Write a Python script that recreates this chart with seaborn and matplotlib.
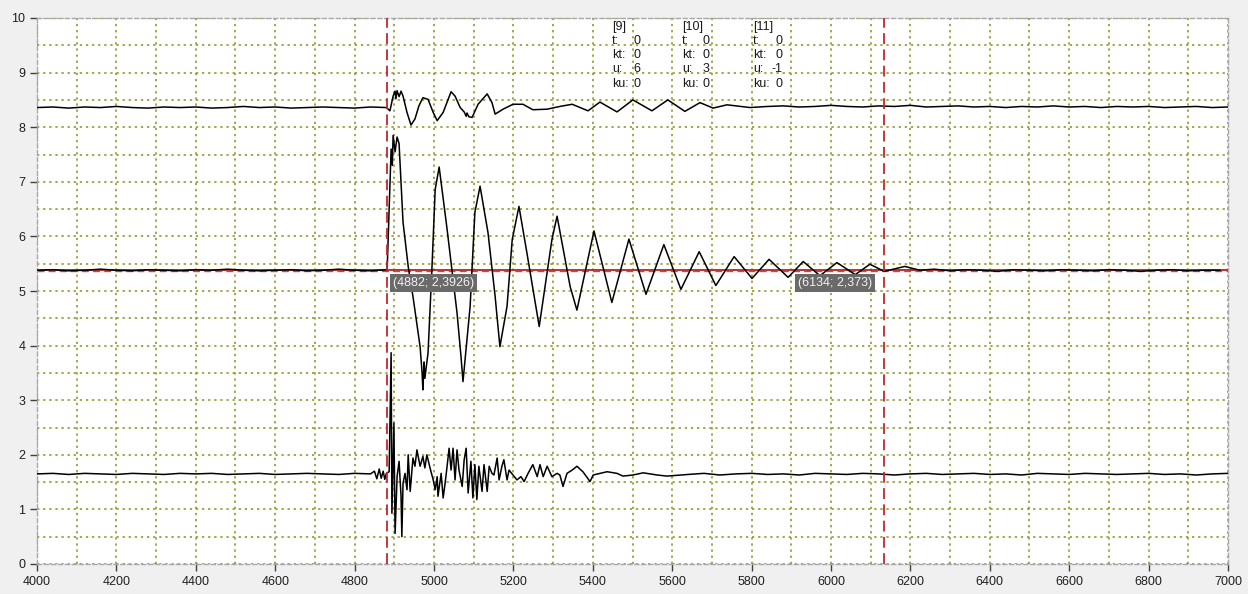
import numpy as np
import pandas as pd
import matplotlib
matplotlib.use("Agg")
import matplotlib.pyplot as plt
import seaborn as sns
from matplotlib.ticker import MultipleLocator

# ---------------- data ----------------
# top trace
top_pre_x = list(range(4000, 4881, 40))
top_pre_y = [8.36, 8.37, 8.35, 8.37, 8.36, 8.38, 8.36, 8.35, 8.37, 8.36, 8.37, 8.35,
             8.36, 8.38, 8.36, 8.37, 8.35, 8.36, 8.37, 8.36, 8.35, 8.37, 8.36]
top_osc_x = [4889, 4897, 4902, 4904, 4907, 4912, 4917, 4922, 4932, 4942, 4952, 4962,
             4972, 4985, 4998, 5008, 5023, 5043, 5053, 5066, 5076, 5081, 5083, 5088,
             5096, 5111, 5134, 5146, 5154, 5174, 5199, 5224, 5249, 5285, 5317, 5348,
             5388, 5418, 5461, 5501, 5549, 5589, 5632, 5670, 5703, 5738, 5796]
top_osc_y = [8.30, 8.57, 8.66, 8.52, 8.67, 8.56, 8.66, 8.57, 8.27, 8.04, 8.15, 8.39,
             8.54, 8.51, 8.27, 8.12, 8.27, 8.65, 8.57, 8.36, 8.28, 8.20, 8.26, 8.19,
             8.18, 8.42, 8.61, 8.45, 8.24, 8.33, 8.42, 8.42, 8.32, 8.33, 8.38, 8.42,
             8.30, 8.46, 8.28, 8.50, 8.30, 8.50, 8.29, 8.45, 8.35, 8.41, 8.36]
top_post_x = list(range(5840, 7001, 40))
top_post_y = [8.38, 8.39, 8.37, 8.38, 8.40, 8.38, 8.37, 8.39, 8.38, 8.40, 8.37, 8.38,
              8.39, 8.37, 8.38, 8.36, 8.38, 8.37, 8.39, 8.37, 8.38, 8.36, 8.38, 8.37,
              8.38, 8.36, 8.37, 8.38, 8.36, 8.37]

# middle trace
mid_pre_x = list(range(4000, 4881, 40))
mid_pre_y = [5.38, 5.39, 5.37, 5.38, 5.40, 5.38, 5.37, 5.39, 5.38, 5.37, 5.39, 5.38,
             5.40, 5.38, 5.37, 5.38, 5.39, 5.37, 5.38, 5.40, 5.38, 5.37, 5.39]
mid_osc_x = [4882, 4887, 4892, 4895, 4897, 4902, 4907, 4912, 4922, 4935, 4947, 4965,
             4970, 4972, 4975, 4977, 4985, 4995, 5003, 5013, 5033, 5058, 5068, 5073,
             5091, 5103, 5116, 5136, 5154, 5166, 5184, 5197, 5214, 5234, 5265, 5297,
             5310, 5343, 5360, 5403, 5448, 5491, 5534, 5579, 5622, 5668, 5710, 5756,
             5801, 5844, 5892, 5930, 5972, 6015, 6061, 6098, 6134, 6186, 6224]
mid_osc_y = [5.38, 6.50, 7.60, 7.30, 7.85, 7.55, 7.82, 7.70, 6.26, 5.45, 4.90, 3.98,
             3.50, 3.19, 3.70, 3.40, 3.87, 5.45, 6.86, 7.27, 6.13, 4.60, 3.80, 3.34,
             4.72, 6.44, 6.92, 6.07, 4.90, 3.98, 4.72, 5.94, 6.55, 5.70, 4.35, 5.94,
             6.37, 5.08, 4.65, 6.10, 4.79, 5.95, 4.94, 5.85, 5.03, 5.72, 5.10, 5.63,
             5.23, 5.58, 5.25, 5.54, 5.28, 5.52, 5.30, 5.49, 5.36, 5.45, 5.38]
mid_post_x = list(range(6260, 7001, 40))
mid_post_y = [5.40, 5.37, 5.39, 5.38, 5.36, 5.39, 5.38, 5.37, 5.39, 5.38, 5.37, 5.39,
              5.38, 5.36, 5.38, 5.39, 5.37, 5.38, 5.38]

# bottom trace
bot_pre_x = list(range(4000, 4841, 40))
bot_pre_y = [1.65, 1.66, 1.64, 1.66, 1.65, 1.64, 1.66, 1.65, 1.64, 1.66, 1.65, 1.66,
             1.64, 1.65, 1.66, 1.64, 1.65, 1.66, 1.65, 1.64, 1.66, 1.65]
bot_osc_x = [4850, 4856, 4862, 4867, 4872, 4876, 4880, 4887, 4892, 4894, 4899, 4902,
             4907, 4912, 4917, 4919, 4922, 4927, 4932, 4935, 4940, 4947, 4952, 4957,
             4965, 4972, 4977, 4982, 4990, 4998, 5003, 5008, 5010, 5018, 5023, 5028,
             5033, 5038, 5043, 5048, 5053, 5058, 5063, 5071, 5076, 5081, 5086, 5093,
             5098, 5103, 5108, 5113, 5121, 5126, 5134, 5139, 5146, 5151, 5159, 5164,
             5171, 5176, 5184, 5189, 5199, 5209, 5219, 5227, 5237, 5249, 5260, 5267,
             5275, 5285, 5297, 5310, 5317, 5325, 5335, 5348, 5360, 5375, 5393, 5401,
             5418, 5436, 5461, 5476, 5501, 5527, 5562, 5587]
bot_osc_y = [1.70, 1.56, 1.74, 1.57, 1.70, 1.55, 1.66, 1.69, 3.87, 0.93, 2.58, 0.56,
             1.60, 1.88, 1.24, 0.50, 1.48, 1.66, 1.36, 2.00, 1.33, 1.94, 1.79, 2.09,
             1.79, 1.97, 1.76, 2.00, 1.76, 1.54, 1.36, 1.60, 1.24, 1.66, 1.21, 1.48,
             1.79, 2.12, 1.72, 2.12, 1.54, 2.09, 1.72, 1.42, 1.91, 2.12, 1.30, 1.88,
             1.21, 1.82, 1.18, 1.79, 1.33, 1.82, 1.33, 1.79, 1.66, 1.63, 1.94, 1.54,
             1.79, 1.91, 1.54, 1.72, 1.63, 1.54, 1.60, 1.51, 1.66, 1.82, 1.60, 1.82,
             1.60, 1.79, 1.60, 1.66, 1.63, 1.42, 1.66, 1.72, 1.79, 1.69, 1.51, 1.63,
             1.66, 1.69, 1.66, 1.61, 1.63, 1.67, 1.63, 1.61]
bot_post_x = list(range(5640, 7001, 40))
bot_post_y = [1.64, 1.66, 1.63, 1.65, 1.66, 1.64, 1.65, 1.63, 1.66, 1.65, 1.64, 1.66,
              1.65, 1.63, 1.65, 1.66, 1.64, 1.65, 1.66, 1.64, 1.65, 1.63, 1.66, 1.65,
              1.64, 1.66, 1.65, 1.64, 1.65, 1.66, 1.64, 1.65, 1.63, 1.65, 1.66]

# cursors / reference level
cursor_x = [4882, 6134]
cursor_labels = ["(4882; 2,3926)", "(6134; 2,373)"]
ref_level = 5.39

# info block
info_titles = ["[9]", "[10]", "[11]"]
info_t = ["0", "0", "0"]
info_kt = ["0", "0", "0"]
info_u = ["6", "3", "-1"]
info_ku = ["0", "0", "0"]

# ---------------- build frame ----------------
frames = []
for name, xs, ys in [
    ("top", top_pre_x + top_osc_x + top_post_x, top_pre_y + top_osc_y + top_post_y),
    ("mid", mid_pre_x + mid_osc_x + mid_post_x, mid_pre_y + mid_osc_y + mid_post_y),
    ("bot", bot_pre_x + bot_osc_x + bot_post_x, bot_pre_y + bot_osc_y + bot_post_y),
]:
    frames.append(pd.DataFrame({"x": xs, "y": ys, "trace": name}))
df = pd.concat(frames, ignore_index=True)

# ---------------- style ----------------
sns.set_theme(style="white")
plt.rcParams["font.family"] = ["Liberation Sans", "DejaVu Sans"]

fig = plt.figure(figsize=(12.48, 5.94), dpi=100, facecolor="#f0f0f0")
ax = fig.add_axes([37 / 1248, 30 / 594, (1228 - 37) / 1248, (564 - 18) / 594])
ax.set_facecolor("white")

ax.set_xlim(4000, 7000)
ax.set_ylim(0, 10)
ax.xaxis.set_major_locator(MultipleLocator(200))
ax.xaxis.set_minor_locator(MultipleLocator(100))
ax.yaxis.set_major_locator(MultipleLocator(1))
ax.yaxis.set_minor_locator(MultipleLocator(0.5))

grid_kw = dict(color="#8e8e1a", linestyle=(0, (1.5, 2.5)), linewidth=1.1)
ax.grid(True, which="both", axis="both", **grid_kw)
ax.set_axisbelow(True)

ax.tick_params(axis="both", which="major", length=5, width=1, color="#404040",
               labelsize=9, labelcolor="#202020", direction="out",
               bottom=True, left=True, top=False, right=False)
ax.tick_params(axis="both", which="minor", length=0)
for sp in ax.spines.values():
    sp.set_linestyle((0, (3, 2)))
    sp.set_color("#a8a8a8")
    sp.set_linewidth(1)

# reference level lines
ax.axhline(ref_level, color="#b22222", lw=1.3, zorder=2)
ax.axhline(ref_level - 0.025, color="#cc4444", lw=1.0, ls=(0, (5, 3)), zorder=2)

# traces
for name in ["top", "mid", "bot"]:
    sns.lineplot(data=df[df.trace == name], x="x", y="y", ax=ax, color="black",
                 lw=1.1, estimator=None, sort=False, legend=False, zorder=3)

# cursor lines
for cx in cursor_x:
    ax.axvline(cx, color="#c0282d", lw=1.3, ls=(0, (6, 3)), zorder=4)

# cursor labels
label_pos = [(4896, 5.15), (5916, 5.15)]
for (lx, ly), txt in zip(label_pos, cursor_labels):
    ax.text(lx, ly, txt, fontsize=9, color="#f2f2f2", va="center", ha="left",
            zorder=5,
            bbox=dict(boxstyle="square,pad=0.22", facecolor="#6a6a6a",
                      edgecolor="none"))

# info blocks
label_x = [5448, 5625, 5804]
value_x = [5519, 5695, 5879]
for i in range(3):
    ax.text(label_x[i], 9.95, info_titles[i] + "\nt:\nkt:\nu:\nku:",
            fontsize=9, color="#1a1a1a", va="top", ha="left", linespacing=1.25,
            zorder=6)
    ax.text(value_x[i], 9.95, "\n" + info_t[i] + "\n" + info_kt[i] + "\n" + info_u[i] +
            "\n" + info_ku[i], fontsize=9, color="#1a1a1a", va="top", ha="right",
            linespacing=1.25, zorder=6)

ax.set_xlabel("")
ax.set_ylabel("")
fig.savefig("out.png", dpi=100, facecolor=fig.get_facecolor())
